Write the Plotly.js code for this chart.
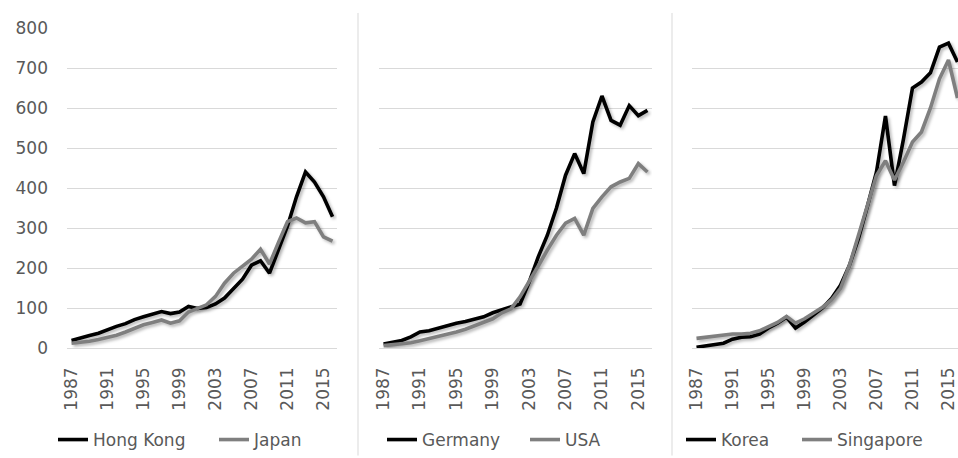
<!DOCTYPE html>
<html>
<head>
<meta charset="utf-8">
<script src="https://cdn.plot.ly/plotly-3.0.1.min.js"></script>
<style>
  html, body { margin: 0; padding: 0; background: #ffffff; }
  #chart { width: 958px; height: 458px; }
  #chart .scatterlayer .trace path.js-line {
    filter: drop-shadow(2px 2px 1.5px rgba(0, 0, 0, 0.28));
  }
</style>
</head>
<body>
<div id="chart"></div>
<script>
// ---- Data ----
const years = [1987, 1988, 1989, 1990, 1991, 1992, 1993, 1994, 1995, 1996,
               1997, 1998, 1999, 2000, 2001, 2002, 2003, 2004, 2005, 2006,
               2007, 2008, 2009, 2010, 2011, 2012, 2013, 2014, 2015, 2016];
const tickYears = [1987, 1991, 1995, 1999, 2003, 2007, 2011, 2015];
const tickLabels = ["1987", "1991", "1995", "1999", "2003", "2007", "2011", "2015"];

const hongKong = [19, 24, 31, 37, 46, 54, 61, 71, 78, 85,
                  91, 86, 90, 104, 99, 101, 110, 125, 148, 172,
                  207, 218, 187, 245, 305, 378, 440, 415, 378, 328];
const japan    = [12, 14, 17, 21, 26, 32, 40, 50, 58, 64,
                  70, 62, 68, 90, 98, 108, 129, 162, 187, 204,
                  222, 247, 210, 264, 316, 325, 313, 316, 278, 267];

const germany  = [10, 14, 19, 28, 40, 43, 50, 55, 62, 66,
                  72, 78, 88, 95, 102, 110, 165, 228, 282, 350,
                  432, 486, 436, 565, 630, 569, 557, 606, 581, 594];
const usa      = [6, 8, 10, 13, 18, 23, 28, 34, 40, 47,
                  55, 63, 73, 88, 98, 128, 165, 205, 245, 282,
                  312, 324, 282, 349, 378, 403, 415, 424, 461, 440];

const korea     = [2, 5, 8, 12, 22, 27, 28, 35, 50, 62,
                   77, 50, 65, 82, 100, 124, 157, 207, 274, 355,
                   440, 580, 406, 522, 650, 665, 688, 752, 762, 715];
const singapore = [24, 27, 29, 32, 35, 35, 37, 43, 54, 64,
                   79, 62, 73, 87, 102, 120, 149, 207, 282, 356,
                   431, 468, 420, 465, 515, 540, 600, 673, 720, 625];

const seriesNames = ["Hong Kong", "Japan", "Germany", "USA", "Korea", "Singapore"];

// ---- Styles ----
const BLACK = "#000000";
const GREY = "#7f7f7f";
const TXT = "#595959";
const GRID = "#d9d9d9";
const FONT = "DejaVu Sans, Liberation Sans, sans-serif";

function line(x, y, name, color, xa, ya, lg, lw) {
  return {
    type: "scatter", mode: "lines", x: x, y: y, name: name,
    xaxis: xa, yaxis: ya, legend: lg, legendwidth: lw,
    line: { color: color, width: 3.6 },
    hoverinfo: "x+y+name"
  };
}

const data = [
  line(years, hongKong, seriesNames[0], BLACK, "x", "y", "legend", 116),
  line(years, japan, seriesNames[1], GREY, "x", "y", "legend", 70),
  line(years, germany, seriesNames[2], BLACK, "x2", "y2", "legend2", 98),
  line(years, usa, seriesNames[3], GREY, "x2", "y2", "legend2", 60),
  line(years, korea, seriesNames[4], BLACK, "x3", "y3", "legend3", 71),
  line(years, singapore, seriesNames[5], GREY, "x3", "y3", "legend3", 110)
];

function xax(domain, range, anchor) {
  return {
    domain: domain, range: range, anchor: anchor,
    tickmode: "array", tickvals: tickYears, ticktext: tickLabels,
    tickangle: -90, showgrid: false, zeroline: false, showline: false,
    ticks: "", ticklabelstandoff: 15,
    tickfont: { family: FONT, size: 17, color: TXT },
    fixedrange: true
  };
}
function yax(anchor, showLabels) {
  return {
    anchor: anchor, range: [0, 800], dtick: 100, tick0: 0,
    showgrid: true, gridcolor: GRID, gridwidth: 1,
    zeroline: true, zerolinecolor: GRID, zerolinewidth: 1,
    showline: false, ticks: "",
    showticklabels: showLabels, ticklabelstandoff: 18,
    tickfont: { family: FONT, size: 17, color: TXT },
    fixedrange: true
  };
}
function leg(xpos) {
  return {
    orientation: "h", x: xpos, xanchor: "left", y: -0.289, yanchor: "middle",
    font: { family: FONT, size: 17, color: TXT },
    bgcolor: "rgba(0,0,0,0)", borderwidth: 0, tracegroupgap: 0
  };
}

const W = 958;
const layout = {
  width: 958, height: 458,
  margin: { l: 0, r: 0, t: 28, b: 108, pad: 0 },
  paper_bgcolor: "#ffffff", plot_bgcolor: "#ffffff",
  font: { family: FONT, size: 17, color: TXT },
  showlegend: true,
  xaxis:  xax([67 / W, 337 / W], [1986.5, 2016.5], "y"),
  xaxis2: xax([379 / W, 652 / W], [1986.5, 2016.5], "y2"),
  xaxis3: xax([692 / W, 1], [1986.5, 2016.06], "y3"),
  yaxis:  yax("x", true),
  yaxis2: yax("x2", false),
  yaxis3: yax("x3", false),
  legend:  leg(53 / W),
  legend2: leg(382 / W),
  legend3: leg(681 / W),
  shapes: [
    { type: "line", xref: "paper", yref: "paper", x0: 358 / W, x1: 358 / W,
      y0: -0.336, y1: 1.047, line: { color: GRID, width: 1 } },
    { type: "line", xref: "paper", yref: "paper", x0: 672 / W, x1: 672 / W,
      y0: -0.336, y1: 1.047, line: { color: GRID, width: 1 } }
  ]
};

Plotly.newPlot("chart", data, layout, { staticPlot: true, displayModeBar: false });
</script>
</body>
</html>
